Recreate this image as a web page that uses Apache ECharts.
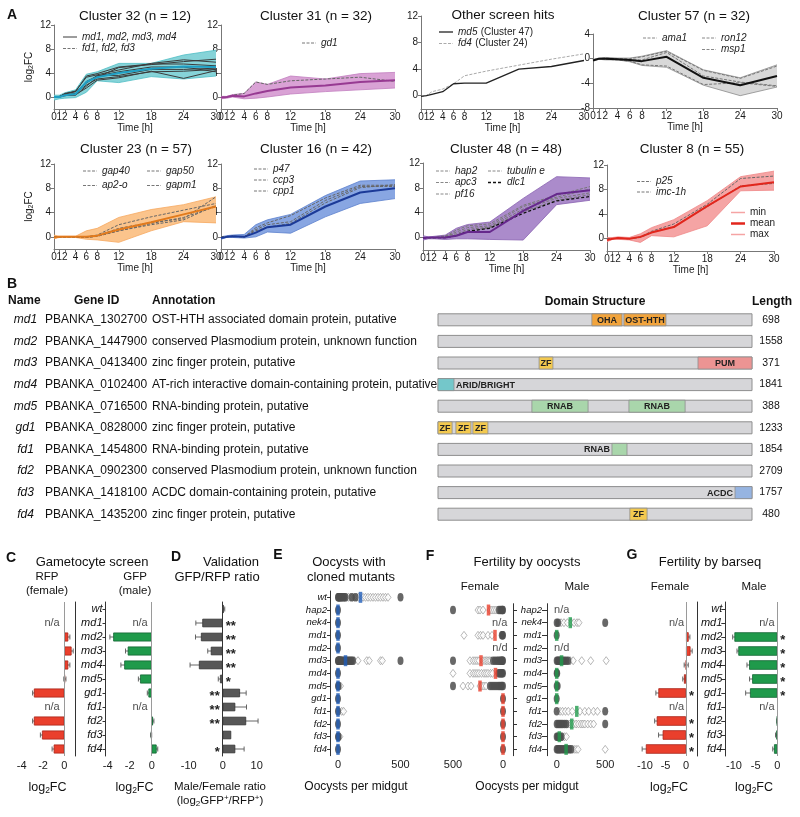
<!DOCTYPE html>
<html><head><meta charset="utf-8">
<script src="https://cdn.jsdelivr.net/npm/echarts@6/dist/echarts.min.js"></script>
<style>html,body{margin:0;padding:0;background:#fff}#c{width:800px;height:817px}</style>
</head><body><div id="c"></div><script>
const FONT = '"Liberation Sans", Arial, sans-serif';

// ---------- Panel A data ----------
const timePoints = [0,1,2,4,6,8,12,18,24,30];
const timeTicks = [0,1,2,4,6,8,12,18,24,30];

const c32Min  = [-0.5,-0.3,-0.2,-0.1,0.8,2.7,2.4,3.4,3.0,3.5];
const c32Max  = [0.3,0.3,0.7,1.2,3.8,4.2,5.6,5.6,7.0,7.8];
const c32Mean = [0,0,0.3,0.5,2.5,3.3,4.0,4.7,5.1,5.0];
const c32Genes = [
  [0,0,0.6,0.9,3.5,3.9,5.0,5.5,5.5,5.2],
  [0,0.1,0.5,1.0,3.3,3.7,4.5,5.6,6.2,5.8],
  [0,0,0.2,0.5,2.6,3.5,4.2,5.0,5.0,4.2],
  [0,0,0.3,0.3,1.8,3.3,4.9,5.4,5.9,6.3],
  [0,0,0.4,0.6,2.0,3.0,3.4,4.2,4.3,4.6],
  [0,0,0.3,0.4,1.5,2.8,3.2,4.3,3.1,4.4],
  [0,0.1,0.5,0.9,2.3,3.6,3.6,4.6,4.6,4.8]
];
const c31Min  = [-0.3,-0.2,0,-0.3,-0.2,0,0.5,0.9,1.2,1.5];
const c31Max  = [0.1,0.1,0.4,0.6,2.5,2.1,3.5,3.0,3.9,4.1];
const c31Mean = [-0.1,0,0.2,0.1,0.6,1.0,1.6,1.9,2.5,2.8];
const c31Genes = [[-0.1,0,0.3,0.6,2.5,2.1,2.7,3.0,3.3,2.6]];
const md5Profile = [-0.1,0,0.2,0.6,1.8,1.9,1.9,4.0,4.4,5.3];
const fd4Profile = [-0.1,0,0.6,1.0,1.8,3.0,3.7,4.6,5.5,6.3];
const c57Min  = [-0.4,-0.1,-0.2,-0.2,-0.5,-1.1,-1.4,-4.3,-6.0,-4.6];
const c57Max  = [-0.1,0.1,0.2,0.1,0.1,0.4,1.3,-1.8,-3.1,-1.0];
const c57Mean = [-0.3,0,0,-0.1,-0.2,-0.4,0.3,-3.1,-4.3,-2.8];
const c57Genes = [
  [-0.2,0,0.1,0,0,0.3,1.2,-1.9,-3.2,-1.2],
  [-0.2,0,0,-0.1,-0.2,-0.2,1.0,-2.8,-3.8,-4.4],
  [-0.3,0,-0.1,-0.2,-0.4,-1.0,-1.2,-4.2,-3.9,-4.5]
];
const c23Min  = [-0.3,-0.1,-0.1,-0.1,-0.4,-0.5,-0.9,1.0,2.5,2.3];
const c23Max  = [0.3,0.1,0.1,0.1,1.0,1.4,3.2,4.5,5.3,6.6];
const c23Mean = [-0.1,0,0,0,0,0.2,1.2,2.4,3.7,5.0];
const c23Genes = [
  [0,0,0,0,0,0.3,2.0,3.3,4.4,5.5],
  [0,0,0,0,-0.1,0.1,1.0,2.2,3.2,5.0],
  [0,0,0,0,0,0.2,1.4,2.4,3.0,6.6],
  [0,0,0,0,-0.1,0.1,1.0,2.0,2.8,5.2]
];
const c16Min  = [-0.4,-0.1,-0.1,-0.2,0,0.8,0.6,3.3,5.5,6.3];
const c16Max  = [0,0.2,0.3,0.4,2.0,2.8,3.7,6.8,9.2,9.4];
const c16Mean = [-0.2,0,0.1,0,0.7,1.6,2.0,5.0,7.3,8.0];
const c16Genes = [
  [0,0,0.1,0,1.5,2.3,3.5,6.4,8.5,8.5],
  [0,0,0.1,0,1.2,2.0,2.5,6.0,8.3,8.3],
  [0,0,0.1,0,1.0,1.6,2.2,5.6,8.1,8.6]
];
const c48Min  = [-0.4,-0.2,-0.2,-0.3,-0.2,-0.2,-0.3,-0.4,5.3,6.0];
const c48Max  = [0.3,0.1,0.2,0.4,1.5,2.1,2.5,6.3,9.8,9.6];
const c48Mean = [-0.1,0,0,0,0.3,0.9,0.9,4.3,7.0,7.6];
const c48Genes = [
  [0,0,0,0.1,0.9,1.6,1.9,5.0,6.5,7.8],
  [0,0,0,0.2,1.2,1.9,2.2,5.2,6.8,8.2],
  [0,0,0,0.3,0.6,1.3,1.7,4.6,6.3,7.2],
  [0,0,0,0.1,0.4,1.0,1.6,4.2,6.0,6.9],
  [0,0,0,0,0.3,1.0,1.5,3.9,5.9,6.6]
];
const c8Min  = [-0.5,-0.1,-0.1,-0.2,-0.6,0.5,0.3,2.1,7.8,7.9];
const c8Max  = [0.2,0.2,0.3,0.2,0.8,1.8,3.1,6.2,10.1,11.0];
const c8Mean = [-0.2,0,0.1,0,0.3,1.0,1.9,5.3,8.5,9.2];
const c8Genes = [
  [0,0,0.1,0,0.3,1.2,2.4,5.6,9.8,10.2],
  [0,0,0.1,0,0.2,1.0,2.0,5.2,8.6,9.0]
];

// ---------- Panel B data ----------
const geneNames = ['md1','md2','md3','md4','md5','gd1','fd1','fd2','fd3','fd4'];
const geneIds = ['PBANKA_1302700','PBANKA_1447900','PBANKA_0413400','PBANKA_0102400','PBANKA_0716500','PBANKA_0828000','PBANKA_1454800','PBANKA_0902300','PBANKA_1418100','PBANKA_1435200'];
const annotations = ['OST-HTH associated domain protein, putative','conserved Plasmodium protein, unknown function','zinc finger protein, putative','AT-rich interactive domain-containing protein, putative','RNA-binding protein, putative','zinc finger protein, putative','RNA-binding protein, putative','conserved Plasmodium protein, unknown function','ACDC domain-containing protein, putative','zinc finger protein, putative'];
const proteinLengths = [698,1558,371,1841,388,1233,1854,2709,1757,480];
const domainGene  = [0,0,2,2,3,4,4,5,5,5,6,8,9];
const domainStart = [49.0,59.2,32.2,82.8,0,29.9,60.8,0,5.7,11.1,55.4,94.6,61.1];
const domainEnd   = [58.6,72.6,36.6,100,5.1,47.8,78.7,4.5,10.5,15.9,60.2,100,66.6];
const domainName  = ['OHA','OST-HTH','ZF','PUM','ARID/BRIGHT','RNAB','RNAB','ZF','ZF','ZF','RNAB','ACDC','ZF'];
const domainLabelSide = ['in','in','in','in','right','in','in','in','in','in','left','left','in'];

// ---------- Panels C, D, G data ----------
const rowsCDG = ['wt','md1','md2','md3','md4','md5','gd1','fd1','fd2','fd3','fd4'];
const rfpVal = [null,null,0.37,0.68,0.37,0.05,-2.86,null,-2.86,-2.1,-1.0];
const rfpErr = [0,0,0.15,0.15,0.15,0.1,0.12,0,0.12,0.15,0.15];
const gfpVal = [null,null,-3.5,-2.18,-2.5,-1.06,-0.3,null,0.12,-0.05,0.45];
const gfpErr = [0,0,0.3,0.2,0.3,0.15,0.1,0,0.08,0.05,0.1];
const cNaRows = [1,7];
const ratioVal = [0.3,-6.0,-6.4,-3.5,-7.0,-0.8,5.1,3.7,6.9,2.5,3.7];
const ratioErr = [0.3,1.9,1.6,0.9,2.6,0.5,1.8,3.3,3.5,0,2.6];
const ratioStars = ['','**','**','**','**','*','**','**','**','','*'];
const barseqFemale = [null,null,0.65,1.1,0.05,-0.5,-6.75,null,-7.15,-5.7,-9.8];
const barseqFemaleErr = [0,0,0.3,0.4,0.5,0.3,0.6,0,0.5,1.0,0.9];
const barseqFemaleStars = ['','','','','','','*','','*','*','*'];
const barseqMale = [null,null,-9.9,-9.0,-6.5,-5.8,-6.3,null,-0.05,-0.2,-0.75];
const barseqMaleErr = [0,0,0.4,0.3,0.5,0.6,1.0,0,0.05,0.2,0.3];
const barseqMaleStars = ['','','*','*','*','*','*','','','',''];
const gNaRows = [1,7];

// ---------- Panels E, F data ----------
const rowsE = ['wt','hap2','nek4','md1','md2','md3','md4','md5','gd1','fd1','fd2','fd3','fd4'];
const eFilled = [
  [0,3,8,12,18,25,32,40,50,60,110,140,500],
  [0],[0],[0],[0],
  [0,2,5,8,12,16,20,25,30,40,50,60,70,80,90,100,110,120,500],
  [0],[0,5],[0],[0],[0],[0,5],[0]
];
const eOpen = [
  [55,70,85,100,115,130,150,165,200,220,240,260,280,300,320,340,360,380,400],
  [],[],[],[],
  [130,160,230,250,340,355],
  [],[20],[],[30,45],[],[15],[]
];
const eMedian = [180,0,0,0,0,60,0,0,0,0,0,0,0];

const rowsF = ['hap2','nek4','md1','md2','md3','md4','md5','gd1','fd1','fd2','fd3','fd4'];
const fFemaleFilled = [
  [500,0,5,12,25,40],[],[0,5,12],[],
  [500,0,5,12,20,30,45,60,80,100],
  [0,8,16,25,35,45],
  [500,0,10,20,35,50,70,90,110,130],
  [0],[0],[0],[0],[0]
];
const fFemaleOpen = [
  [250,230,200,130,110,90,70,50],[],[390,250,225,200,150,110],[],
  [330,300,280,260,240,200,180,165,150,135,120],
  [500,330,300,280,260,240,215,190,170,150,125,105],
  [400,350,320,230,210,190,170],
  [],[],[],[],[]
];
const fFemaleMedian = [145,null,80,null,220,75,230,0,0,0,0,0];
const fMaleFilled = [
  [],[0,15,500],[0],[],
  [0,10,20,30,40,50,65,80,100,120],
  [0,5],[0,10],[0],[0,500],
  [0,15,30,45,60,80,100,500],
  [0,10,20,35,50],
  [0,10,20,30,40,55,70,85,100,115,130,150]
];
const fMaleOpen = [
  [],[45,75,110,150,180,210,230],[],[],
  [140,170,258,350,510],
  [],[],[],
  [35,60,90,120,160,240,290,330,380,420],
  [110,130,150,175,200,225,250,270,290,320,350,380],
  [60,80,100],
  [140,160,180,200,220,500]
];
const fMaleMedian = [null,140,0,null,50,0,0,0,207,155,27,97];
const fFemaleNotes = [[33,1,'n/a'],[30,3,'n/d']];
const fMaleNotes = [[52,0,'n/a'],[52,3,'n/d']];

// ---------- layout ----------
const aCharts = [
  {min:c32Min,max:c32Max,mean:c32Mean,genes:c32Genes,fill:'#86d3d8',edge:'#4dbcc4',meanColor:'#1f9fc4',geneColor:'#3b3b3b',dash:null,yMin:-2,yMax:12,yTicks:[0,4,8,12]},
  {min:c31Min,max:c31Max,mean:c31Mean,genes:c31Genes,fill:'#d9a2d5',edge:'#c27ebf',meanColor:'#973a92',geneColor:'#666',dash:[3,1.5],yMin:-2,yMax:12,yTicks:[0,4,8,12]},
  {min:null,max:null,mean:null,genes:[fd4Profile,md5Profile],geneStyles:[{color:'#aaa',width:1,type:[3,1.5]},{color:'#222',width:1.3,type:'solid'}],yMin:-2,yMax:12,yTicks:[0,4,8,12]},
  {min:c57Min,max:c57Max,mean:c57Mean,genes:c57Genes,fill:'#d8d8d8',edge:'#8c8c8c',meanColor:'#111',geneColor:'#777',dash:[3,1.5],yMin:-8,yMax:4,yTicks:[-8,-4,0,4]},
  {min:c23Min,max:c23Max,mean:c23Mean,genes:c23Genes,fill:'#fbc48c',edge:'#f6a85f',meanColor:'#e27a1c',geneColor:'#666',dash:[3,1.5],yMin:-2,yMax:12,yTicks:[0,4,8,12]},
  {min:c16Min,max:c16Max,mean:c16Mean,genes:c16Genes,fill:'#88a6e2',edge:'#5c80cd',meanColor:'#1b3a98',geneColor:'#666',dash:[3,1.5],yMin:-2,yMax:12,yTicks:[0,4,8,12]},
  {min:c48Min,max:c48Max,mean:c48Mean,genes:c48Genes,fill:'#ab8bcb',edge:'#8962b1',meanColor:'#66288c',geneColor:'#777',dash:[3,1.5],yMin:-2,yMax:12,yTicks:[0,4,8,12],lastGene:{color:'#111',width:1.3,type:[3,2]}},
  {min:c8Min,max:c8Max,mean:c8Mean,genes:c8Genes,fill:'#f5a4a4',edge:'#ef8585',meanColor:'#e2261c',geneColor:'#666',dash:[3,1.5],yMin:-2,yMax:12,yTicks:[0,4,8,12]}
];

const grids = [
  {left:54, top:25, width:162, height:84},
  {left:221, top:25, width:174, height:84},
  {left:421, top:16, width:163, height:93},
  {left:593, top:34, width:184, height:74},
  {left:54, top:164, width:162, height:85},
  {left:221, top:164, width:174, height:85},
  {left:423, top:163, width:167, height:87},
  {left:607, top:165, width:167, height:86},
  {left:438, top:309, width:314, height:216},
  {left:19.6, top:602, width:55.4, height:154},
  {left:105.5, top:602, width:57.2, height:154},
  {left:187, top:602, width:71.4, height:154},
  {left:330, top:591, width:76.75, height:164.7},
  {left:447, top:603.7, width:66, height:152},
  {left:547, top:603.7, width:65, height:152},
  {left:640.1, top:602, width:57.4, height:154},
  {left:725.3, top:602, width:55, height:154}
].map(g => Object.assign({containLabel:false, outerBoundsMode:'none'}, g));

const xAxes = [], yAxes = [], series = [];
const lab = (sz, extra) => Object.assign({fontSize:sz, color:'#1a1a1a', fontFamily:FONT}, extra||{});
const richLog = {n:{fontSize:10,fontFamily:FONT,color:'#1a1a1a'}, s:{fontSize:7,fontFamily:FONT,color:'#1a1a1a',padding:[5,0,0,0]}};

aCharts.forEach((c, gi) => {
  xAxes.push({type:'value', gridIndex:gi, min:0, max:30, name:'Time [h]', nameLocation:'middle', nameGap:13,
    nameTextStyle:lab(10), axisLine:{onZero:false, lineStyle:{color:'#777'}},
    axisTick:{customValues:timeTicks, length:3, lineStyle:{color:'#777'}},
    axisLabel:Object.assign({customValues:timeTicks, margin:3, showMinLabel:true, showMaxLabel:true, hideOverlap:false}, lab(10)), splitLine:{show:false}});
  const showName = gi === 0 || gi === 4;
  yAxes.push({type:'value', gridIndex:gi, min:c.yMin, max:c.yMax,
    name: showName ? '{n|log}{s|2}{n|FC}' : '', nameLocation:'middle', nameGap:19, nameRotate:90,
    nameTextStyle:{rich:richLog},
    axisLine:{show:true, onZero:false, lineStyle:{color:'#777'}},
    axisTick:{show:true, customValues:c.yTicks, length:3, lineStyle:{color:'#777'}},
    axisLabel:Object.assign({customValues:c.yTicks, margin:3, showMinLabel:true, showMaxLabel:true}, lab(10)), splitLine:{show:false}});
  if (c.min) {
    series.push({type:'custom', xAxisIndex:gi, yAxisIndex:gi, silent:true, z:1,
      data:timePoints.map((t,i)=>[t, c.min[i], c.max[i]]), encode:{x:0, y:[1,2]},
      renderItem:(p, api) => {
        if (p.dataIndex !== 0) return null;
        const up = timePoints.map((t,i)=>api.coord([t, c.max[i]]));
        const lo = timePoints.map((t,i)=>api.coord([t, c.min[i]]));
        return {type:'group', children:[
          {type:'polygon', shape:{points:up.concat(lo.slice().reverse())}, style:{fill:c.fill, stroke:null}},
          {type:'polyline', shape:{points:up}, style:{stroke:c.edge, lineWidth:0.8, fill:null}},
          {type:'polyline', shape:{points:lo}, style:{stroke:c.edge, lineWidth:0.8, fill:null}}
        ]};
      }});
  }
  c.genes.forEach((g, k) => {
    let st = {color:c.geneColor, width:1, type:c.dash || 'solid'};
    if (c.geneStyles) st = c.geneStyles[k];
    if (c.lastGene && k === c.genes.length - 1) st = c.lastGene;
    series.push({type:'line', xAxisIndex:gi, yAxisIndex:gi, data:timePoints.map((t,i)=>[t,g[i]]),
      symbol:'none', silent:true, z:2, lineStyle:st});
  });
  if (c.mean) series.push({type:'line', xAxisIndex:gi, yAxisIndex:gi, data:timePoints.map((t,i)=>[t,c.mean[i]]),
    symbol:'none', silent:true, z:3, lineStyle:{color:c.meanColor, width:2}});
});

// Panel B grid (8)
xAxes.push({type:'value', gridIndex:8, min:0, max:100, show:false});
yAxes.push({type:'category', gridIndex:8, data:geneNames, inverse:true, show:false});
const domainColors = {'OHA':'#f2a43c','OST-HTH':'#f2a43c','ZF':'#f3c94f','PUM':'#ec9493','ARID/BRIGHT':'#74c7ca','RNAB':'#a9d6ab','ACDC':'#96b4e1'};
series.push({type:'custom', xAxisIndex:8, yAxisIndex:8, clip:false, silent:true, z:2,
  data:geneNames.map((n,i)=>[0,100,i]), encode:{x:[0,1], y:2},
  renderItem:(p, api) => {
    const a = api.coord([api.value(0), api.value(2)]), b = api.coord([api.value(1), api.value(2)]);
    return {type:'rect', shape:{x:a[0], y:a[1]-6, width:b[0]-a[0], height:12},
      style:{fill:'#d6d6d9', stroke:'#8e8e8e', lineWidth:1}};
  }});
series.push({type:'custom', xAxisIndex:8, yAxisIndex:8, clip:false, silent:true, z:3,
  data:domainGene.map((r,i)=>[domainStart[i], domainEnd[i], r, i]), encode:{x:[0,1], y:2},
  renderItem:(p, api) => {
    const k = api.value(3);
    const a = api.coord([api.value(0), api.value(2)]), b = api.coord([api.value(1), api.value(2)]);
    const name = domainName[k], side = domainLabelSide[k];
    let tx = (a[0]+b[0])/2, al = 'center';
    if (side === 'right') { tx = b[0] + 2; al = 'left'; }
    if (side === 'left') { tx = a[0] - 2; al = 'right'; }
    return {type:'group', children:[
      {type:'rect', shape:{x:a[0], y:a[1]-6, width:b[0]-a[0], height:12},
        style:{fill:domainColors[name], stroke:'#8e8e8e', lineWidth:0.8}},
      {type:'text', style:{x:tx, y:a[1]+0.5, text:name, align:al, verticalAlign:'middle',
        font:'bold 9px '+FONT, fill:'#222'}}
    ]};
  }});

// helpers for bar panels
function errSeries(gi, vals, errs, z) {
  const data = [];
  vals.forEach((v,i) => { if (v !== null && errs[i] > 0) data.push([v, i, errs[i]]); });
  return {type:'custom', xAxisIndex:gi, yAxisIndex:gi, silent:true, z:z||1, data, encode:{x:0, y:1},
    renderItem:(p, api) => {
      const v = api.value(0), r = api.value(1), e = api.value(2);
      const a = api.coord([v-e, r]), b = api.coord([v+e, r]);
      const st = {stroke:'#555', lineWidth:0.9};
      return {type:'group', children:[
        {type:'line', shape:{x1:a[0], y1:a[1], x2:b[0], y2:b[1]}, style:st},
        {type:'line', shape:{x1:a[0], y1:a[1]-2.5, x2:a[0], y2:a[1]+2.5}, style:st},
        {type:'line', shape:{x1:b[0], y1:b[1]-2.5, x2:b[0], y2:b[1]+2.5}, style:st}
      ]};
    }};
}
function barSeries(gi, vals, stars, color, border, width, zeroLine) {
  const s = {type:'bar', xAxisIndex:gi, yAxisIndex:gi, barWidth:width, silent:true, z:2,
    itemStyle:{color, borderColor:border, borderWidth:0.8},
    data: vals.map((v,i) => {
      const st = stars ? stars[i] : '';
      return {value:v, label:{show:!!st, formatter:st, position: v < 0 ? 'right' : 'left', distance:3,
        fontSize:13, fontWeight:'bold', color:'#222', fontFamily:FONT, offset:[0,3]}};
    })};
  if (zeroLine) s.markLine = {silent:true, symbol:'none', label:{show:false}, animation:false,
    lineStyle:{color:'#9a9a9a', width:1, type:'solid'}, data:[{xAxis:0}]};
  return s;
}
function noteSeries(gi, pts) {
  return {type:'scatter', xAxisIndex:gi, yAxisIndex:gi, silent:true, z:5, symbolSize:0.1,
    itemStyle:{color:'rgba(0,0,0,0)'}, data:pts.map(p => ({value:[p[0], p[1]], name:p[2]})),
    label:{show:true, position:'inside', formatter:'{b}', fontSize:11, color:'#1a1a1a', fontFamily:FONT}};
}
function catAxis(gi, rows, opt) {
  return Object.assign({type:'category', gridIndex:gi, data:rows, inverse:true,
    axisLine:{show:true, onZero:false, lineStyle:{color:'#333'}},
    axisTick:{show:true, alignWithLabel:true, interval:0, length:3, lineStyle:{color:'#333'}},
    axisLabel:{show:false, interval:0}, splitLine:{show:false}}, opt);
}
function valAxis(gi, min, max, ticks, labels, opt) {
  return Object.assign({type:'value', gridIndex:gi, min, max,
    axisLine:{onZero:false, lineStyle:{color:'#333'}},
    axisTick:{customValues:ticks, length:3, lineStyle:{color:'#333'}},
    axisLabel:Object.assign({customValues:labels || ticks, margin:4, showMinLabel:true, showMaxLabel:true}, lab(11)),
    splitLine:{show:false}}, opt||{});
}
const italicLab = (sz, margin) => ({show:true, interval:0, margin:margin, fontSize:sz, fontStyle:'italic', color:'#111', fontFamily:FONT});
const tickOn = len => ({show:true, alignWithLabel:true, interval:0, length:len, lineStyle:{color:'#333'}});

// C female (9)
xAxes.push(valAxis(9, -4.2, 1, [-4,-2,0]));
yAxes.push(catAxis(9, rowsCDG, {position:'right', axisTick:{show:false}}));
series.push(errSeries(9, rfpVal, rfpErr));
series.push(barSeries(9, rfpVal, null, '#ea3f2c', '#a8261a', 9, true));
series.push(noteSeries(9, cNaRows.map(r => [-1.15, r, 'n/a'])));
// C male (10)
xAxes.push(valAxis(10, -4.2, 1, [-4,-2,0]));
yAxes.push(catAxis(10, rowsCDG, {position:'left', axisTick:tickOn(3), axisLabel:italicLab(11, 3)}));
series.push(errSeries(10, gfpVal, gfpErr));
series.push(barSeries(10, gfpVal, null, '#1f9a4b', '#136634', 9, true));
series.push(noteSeries(10, cNaRows.map(r => [-1.06, r, 'n/a'])));
// D (11)
xAxes.push(valAxis(11, -10.5, 10.5, [-10,0,10]));
yAxes.push(catAxis(11, rowsCDG, {axisLine:{show:true, onZero:true, lineStyle:{color:'#333'}}, axisTick:{show:false}}));
series.push(errSeries(11, ratioVal, ratioErr));
series.push(barSeries(11, ratioVal, ratioStars, '#575757', '#333', 8.5, false));
// E (12)
xAxes.push(valAxis(12, -64, 550, [0,100,200,300,400,500], [0,500]));
yAxes.push(catAxis(12, rowsE, {position:'left', axisTick:tickOn(3), axisLabel:italicLab(9.5, 3)}));
// F female (13), F male (14)
xAxes.push(valAxis(13, -100, 560, [0,100,200,300,400,500], [0,500], {inverse:true}));
yAxes.push(catAxis(13, rowsF, {position:'right', axisTick:tickOn(4)}));
xAxes.push(valAxis(14, -100, 570, [0,100,200,300,400,500], [0,500]));
yAxes.push(catAxis(14, rowsF, {position:'left', axisTick:tickOn(5), axisLabel:italicLab(9.5, 5)}));
// G female (15), male (16)
xAxes.push(valAxis(15, -11.2, 2.8, [-10,-5,0]));
yAxes.push(catAxis(15, rowsCDG, {position:'right', axisTick:{show:false}}));
series.push(errSeries(15, barseqFemale, barseqFemaleErr));
series.push(barSeries(15, barseqFemale, barseqFemaleStars, '#ea3f2c', '#a8261a', 9.5, true));
series.push(noteSeries(15, gNaRows.map(r => [-2.3, r, 'n/a'])));
xAxes.push(valAxis(16, -12, 0.7, [-10,-5,0]));
yAxes.push(catAxis(16, rowsCDG, {position:'left', axisTick:tickOn(4), axisLabel:italicLab(11, 3)}));
series.push(errSeries(16, barseqMale, barseqMaleErr));
series.push(barSeries(16, barseqMale, barseqMaleStars, '#1f9a4b', '#136634', 9.5, true));
series.push(noteSeries(16, gNaRows.map(r => [-2.4, r, 'n/a'])));

// scatter panels
function pts(lists) { const out = []; lists.forEach((arr, r) => arr.forEach(v => out.push([v, r]))); return out; }
function medPts(arr) { const out = []; arr.forEach((v, r) => { if (v !== null) out.push([v, r]); }); return out; }
function dotSeries(gi, filled, open, med, medColor) {
  return [
    {type:'scatter', xAxisIndex:gi, yAxisIndex:gi, silent:true, z:2, data:pts(open), symbol:'diamond', symbolSize:[6,8],
      itemStyle:{color:'#fff', borderColor:'#8f8f8f', borderWidth:0.8}},
    {type:'scatter', xAxisIndex:gi, yAxisIndex:gi, silent:true, z:3, data:pts(filled), symbol:'circle', symbolSize:[6,8.5],
      itemStyle:{color:'#4e4e4e', opacity:0.85}},
    {type:'scatter', xAxisIndex:gi, yAxisIndex:gi, silent:true, z:4, data:medPts(med), symbol:'rect', symbolSize:[3.5,11],
      itemStyle:{color:medColor}}
  ];
}
series.push(...dotSeries(12, eFilled, eOpen, eMedian, '#1f5cb8'));
series.push(...dotSeries(13, fFemaleFilled, fFemaleOpen, fFemaleMedian, '#ea3f2c'));
series.push(...dotSeries(14, fMaleFilled, fMaleOpen, fMaleMedian, '#1f9a4b'));
series.push(noteSeries(13, fFemaleNotes));
series.push(noteSeries(14, fMaleNotes));

// ---------- graphic texts ----------
const G = [];
function txt(x, y, text, font, align, extra) {
  return Object.assign({type:'text', x, y, silent:true, z:10,
    style:{text, font: font || ('13px ' + FONT), fill:'#111', align: align || 'center', verticalAlign:'middle'}}, extra||{});
}
function rtxt(x, y, text, rich, align) {
  return {type:'text', x, y, silent:true, z:10, style:{text, rich, fill:'#111', align: align||'center', verticalAlign:'middle', font:'12px '+FONT}};
}
function seg(x1, x2, y, stroke, width, dash) {
  return {type:'line', silent:true, z:10, shape:{x1, y1:y, x2, y2:y}, style:{stroke, lineWidth:width, lineDash:dash||null}};
}
const bold14 = 'bold 14px ' + FONT;
const t13 = '13.5px ' + FONT;
// panel letters
G.push(txt(12, 15, 'A', bold14), txt(12, 284, 'B', bold14), txt(11, 558, 'C', bold14), txt(176, 557, 'D', bold14),
  txt(278, 555, 'E', bold14), txt(430, 556, 'F', bold14), txt(632, 555, 'G', bold14));
// A titles
G.push(txt(135, 16, 'Cluster 32 (n = 12)', t13), txt(316, 16, 'Cluster 31 (n = 32)', t13), txt(503, 15, 'Other screen hits', t13),
  txt(694, 16, 'Cluster 57 (n = 32)', t13), txt(136, 149, 'Cluster 23 (n = 57)', t13), txt(316, 149, 'Cluster 16 (n = 42)', t13),
  txt(506, 149, 'Cluster 48 (n = 48)', t13), txt(692, 149, 'Cluster 8 (n = 55)', t13));
// A legends
const legRich = {i:{fontSize:10, fontStyle:'italic', fontFamily:FONT, fill:'#222'}, n:{fontSize:10, fontFamily:FONT, fill:'#222'}};
const legends = [
  [63, 37, '{i|md1, md2, md3, md4}', '#3b3b3b', 1, null],
  [63, 48.5, '{i|fd1, fd2, fd3}', '#777', 1, [3,1.5]],
  [302, 43, '{i|gd1}', '#777', 1, [3,1.5]],
  [439, 32, '{i|md5} {n|(Cluster 47)}', '#222', 1.3, null],
  [439, 43.5, '{i|fd4} {n|(Cluster 24)}', '#aaa', 1, [3,1.5]],
  [643, 38, '{i|ama1}', '#888', 1, [3,1.5]],
  [702, 38, '{i|ron12}', '#888', 1, [3,1.5]],
  [702, 49.5, '{i|msp1}', '#888', 1, [3,1.5]],
  [83, 171, '{i|gap40}', '#777', 1, [3,1.5]],
  [83, 185.5, '{i|ap2-o}', '#777', 1, [3,1.5]],
  [147, 171, '{i|gap50}', '#777', 1, [3,1.5]],
  [147, 185.5, '{i|gapm1}', '#777', 1, [3,1.5]],
  [254, 169, '{i|p47}', '#777', 1, [3,1.5]],
  [254, 180, '{i|ccp3}', '#777', 1, [3,1.5]],
  [254, 191, '{i|cpp1}', '#777', 1, [3,1.5]],
  [436, 171, '{i|hap2}', '#888', 1, [3,1.5]],
  [436, 182.5, '{i|apc3}', '#888', 1, [3,1.5]],
  [436, 194, '{i|pf16}', '#888', 1, [3,1.5]],
  [488, 171, '{i|tubulin e}', '#888', 1, [3,1.5]],
  [488, 182.5, '{i|dlc1}', '#111', 1.3, [3,2]],
  [637, 181.5, '{i|p25}', '#777', 1, [3,1.5]],
  [637, 192, '{i|imc-1h}', '#777', 1, [3,1.5]],
  [731, 212.5, '{n|min}', '#f5a4a4', 1.5, null],
  [731, 223.5, '{n|mean}', '#e2261c', 2.5, null],
  [731, 234.5, '{n|max}', '#f5a4a4', 1.5, null]
];
legends.forEach(l => { G.push(seg(l[0], l[0]+14, l[1], l[3], l[4], l[5])); G.push(rtxt(l[0]+19, l[1], l[2], legRich, 'left')); });

// B table text
const bh = 'bold 12px ' + FONT;
G.push(txt(8, 301, 'Name', bh, 'left'), txt(74, 301, 'Gene ID', bh, 'left'), txt(152, 301, 'Annotation', bh, 'left'),
  txt(595, 302, 'Domain Structure', bh), txt(772, 302, 'Length', bh));
const rowY = i => 309 + (i + 0.5) * 21.6;
geneNames.forEach((n, i) => {
  G.push(txt(25.5, rowY(i), n, 'italic 12px ' + FONT));
  G.push(txt(45, rowY(i), geneIds[i], '12px ' + FONT, 'left'));
  G.push(txt(152, rowY(i), annotations[i], '12px ' + FONT, 'left'));
  G.push(txt(771, rowY(i), String(proteinLengths[i]), '10.5px ' + FONT));
});

// C-G titles
const t13b = '13px ' + FONT, t11 = '11.5px ' + FONT;
G.push(txt(92, 562, 'Gametocyte screen', t13b), txt(47, 577, 'RFP', t11), txt(47, 591, '(female)', t11),
  txt(135, 577, 'GFP', t11), txt(135, 591, '(male)', t11));
G.push(txt(231, 562, 'Validation', t13b), txt(217, 577, 'GFP/RFP ratio', t13b));
G.push(txt(349, 562, 'Oocysts with', t13b), txt(351, 577, 'cloned mutants', t13b));
G.push(txt(527, 562, 'Fertility by oocysts', t13b), txt(480, 587, 'Female', t11), txt(577, 587, 'Male', t11));
G.push(txt(710, 562, 'Fertility by barseq', t13b), txt(670, 587, 'Female', t11), txt(754, 587, 'Male', t11));
// bottom axis names
const richFC = {n:{fontSize:12.5, fontFamily:FONT, fill:'#111'}, s:{fontSize:8.5, fontFamily:FONT, fill:'#111', padding:[6,0,0,0]}};
const richD = {n:{fontSize:11.5, fontFamily:FONT, fill:'#111'}, s:{fontSize:8, fontFamily:FONT, fill:'#111', padding:[6,0,0,0]}, p:{fontSize:8, fontFamily:FONT, fill:'#111', padding:[0,0,6,0]}};
G.push(rtxt(47.5, 788, '{n|log}{s|2}{n|FC}', richFC), rtxt(134.5, 788, '{n|log}{s|2}{n|FC}', richFC),
  rtxt(669, 788, '{n|log}{s|2}{n|FC}', richFC), rtxt(754, 788, '{n|log}{s|2}{n|FC}', richFC));
G.push(txt(220, 787, 'Male/Female ratio', '11.5px ' + FONT), rtxt(220, 801, '{n|(log}{s|2}{n|GFP}{p|+}{n|/RFP}{p|+}{n|)}', richD));
G.push(txt(356, 787, 'Oocysts per midgut', '12px ' + FONT), txt(527, 787, 'Oocysts per midgut', '12px ' + FONT));

const chart = echarts.init(document.getElementById('c'), null, {renderer:'canvas', width:800, height:817});
chart.setOption({
  animation:false, backgroundColor:'#fff',
  grid:grids, xAxis:xAxes, yAxis:yAxes, series, graphic:{elements:G}
});
</script></body></html>
